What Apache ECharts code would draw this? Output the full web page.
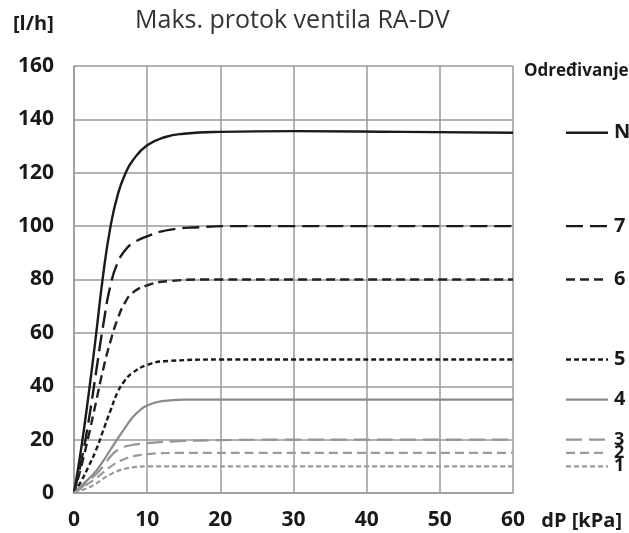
<!DOCTYPE html>
<html>
<head>
<meta charset="utf-8">
<script src="https://cdn.jsdelivr.net/npm/echarts@6/dist/echarts.min.js"></script>
<style>
  html, body { margin: 0; padding: 0; background: #fff; }
  #chart { width: 629px; height: 533px; }
</style>
</head>
<body>
<div id="chart"></div>
<script>
// Flow curves [dP kPa, l/h]
const curveN = [[0,0],[1,17],[2,37],[3,59],[4,82],[5,100],[6,112],[7,119.5],[8,124.5],[10,130.3],[12.5,133.4],[15,134.6],[20,135.3],[30,135.6],[45,135.3],[60,135]];
const curve7 = [[0,0],[1,12],[2,27],[3,45],[4,63],[5,78],[6,86.5],[7,91],[8,93.5],[10,96.2],[13,98.6],[17,99.6],[22,100],[30,100],[60,100]];
const curve6 = [[0,0],[1,10],[2,21.5],[3,34],[4,46.5],[5,57],[6,65.5],[7,71.5],[8,75],[10,77.8],[13,79.4],[18,80],[30,80],[60,80]];
const curve5 = [[0,0],[1,4.5],[2,10],[3,16],[4,23.5],[5,31],[6,38],[7,42.3],[8,45],[10,48],[13,49.5],[20,50],[30,50],[60,50]];
const curve4 = [[0,0],[1,2.7],[2,5.3],[3,8.2],[4,12],[5,16.3],[6,20.5],[7,24.5],[8,28.3],[9,31],[10,32.8],[12,34.4],[15,35],[30,35],[60,35]];
const curve3 = [[0,0],[1,2],[2,4.5],[3,7],[4,10],[5,13.8],[6,16.2],[7,17.4],[8,18],[10,18.7],[15,19.5],[20,19.8],[30,20],[60,20]];
const curve2 = [[0,0],[1,1.8],[2,3.6],[3,5.5],[4,7.7],[5,9.9],[6,11.6],[7,12.8],[8,13.7],[10,14.6],[14,15],[30,15],[60,15]];
const curve1 = [[0,0],[1,1],[2,2],[3,3.5],[4,5.4],[5,7],[6,8.3],[7,9.1],[8,9.6],[10,10],[30,10],[60,10]];

const settingNames = ['N', '7', '6', '5', '4', '3', '2', '1'];
const settingLevels = [135, 100, 80, 50, 35, 20, 15, 10];
const curves = [curveN, curve7, curve6, curve5, curve4, curve3, curve2, curve1];

const xTicks = { min: 0, max: 60, interval: 10 };
const yTicks = { min: 0, max: 160, interval: 20 };

// line look per setting
const styles = [
    { color: '#1a1a1a', width: 2.4, type: 'solid' },
    { color: '#1a1a1a', width: 2.4, type: [17, 7] },
    { color: '#222222', width: 2.4, type: [9, 5] },
    { color: '#1a1a1a', width: 2.4, type: [5, 3] },
    { color: '#8a8a8a', width: 2.2, type: 'solid' },
    { color: '#959595', width: 2.2, type: [16, 7] },
    { color: '#9a9a9a', width: 2.2, type: [9, 5] },
    { color: '#9a9a9a', width: 2.2, type: [5, 3] }
];

const chart = echarts.init(document.getElementById('chart'));
const gridColor = '#9a9a9a';
const labelFont = { color: '#1a1a1a', fontSize: 21, fontWeight: 'bold', fontFamily: 'Open Sans' };

const curveSeries = curves.map((c, i) => ({
    name: settingNames[i],
    type: 'line',
    xAxisIndex: 0, yAxisIndex: 0,
    data: c,
    smooth: 0.5,
    symbol: 'none',
    silent: true,
    lineStyle: styles[i]
}));

// legend keys on a small side grid sharing the y range
const keySeries = settingLevels.map((v, i) => ({
    name: 'key' + settingNames[i],
    type: 'line',
    xAxisIndex: 1, yAxisIndex: 1,
    data: [[0, v], [1, v]],
    symbol: 'none',
    silent: true,
    lineStyle: styles[i],
    endLabel: {
        show: true,
        formatter: settingNames[i],
        distance: 6,
        ...labelFont,
        fontSize: i >= 5 ? 18 : 20,
        lineHeight: i >= 5 ? 14 : 20
    }
}));

chart.setOption({
    animation: false,
    title: [
        { text: 'Maks. protok ventila RA-DV', left: 130, top: 3,
          textStyle: { color: '#333', fontSize: 25, fontWeight: 'normal', fontFamily: 'Open Sans' } },
        { text: '[l/h]', left: 8, top: 9, textStyle: { ...labelFont, fontSize: 20 } },
        { text: 'Određivanje', left: 519, top: 58, textStyle: { ...labelFont, fontSize: 17 } },
        { text: 'dP [kPa]', right: 2, top: 506, textStyle: { ...labelFont, fontSize: 20 } }
    ],
    grid: [
        { left: 74, right: 116, top: 66, bottom: 40 },
        { left: 566, width: 42, top: 66, bottom: 40 }
    ],
    xAxis: [
        {
            type: 'value', gridIndex: 0, ...xTicks,
            axisLine: { show: true, lineStyle: { color: gridColor, width: 1.5 } },
            axisTick: { show: false },
            splitLine: { show: true, lineStyle: { color: gridColor, width: 1.5 } },
            axisLabel: { ...labelFont, margin: 17 }
        },
        { type: 'value', gridIndex: 1, min: 0, max: 1, show: false }
    ],
    yAxis: [
        {
            type: 'value', gridIndex: 0, ...yTicks,
            axisLine: { show: true, lineStyle: { color: gridColor, width: 1.5 } },
            axisTick: { show: false },
            splitLine: { show: true, lineStyle: { color: gridColor, width: 1.5 } },
            axisLabel: { ...labelFont, margin: 20 }
        },
        { type: 'value', gridIndex: 1, min: 0, max: 160, show: false }
    ],
    series: [...curveSeries, ...keySeries]
});

window.addEventListener('resize', () => chart.resize());
</script>
</body>
</html>
